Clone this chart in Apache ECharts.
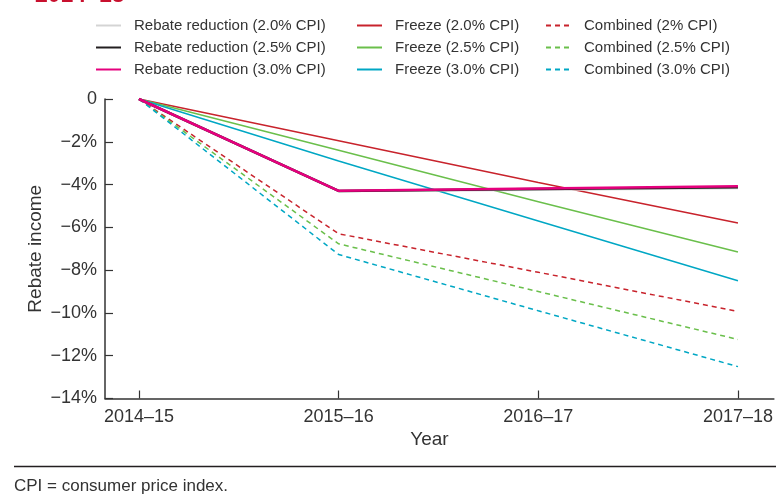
<!DOCTYPE html>
<html>
<head>
<meta charset="utf-8">
<script src="https://cdn.jsdelivr.net/npm/echarts@6/dist/echarts.min.js"></script>
<style>
html, body { margin: 0; padding: 0; background: #fff; }
#main { width: 776px; height: 500px; }
</style>
</head>
<body>
<div id="main"></div>
<script>
// 数据
var years = ['2014–15', '2015–16', '2016–17', '2017–18'];
var rebate20 = [0, -4.3, -4.24, -4.16];
var rebate25 = [0, -4.3, -4.21, -4.12];
var rebate30 = [0, -4.29, -4.18, -4.08];
var freeze20 = [0, -1.95, -3.9, -5.8];
var freeze25 = [0, -2.4, -4.8, -7.15];
var freeze30 = [0, -2.9, -5.7, -8.5];
var comb20 = [0, -6.3, -8.1, -9.93];
var comb25 = [0, -6.77, -9.0, -11.24];
var comb30 = [0, -7.27, -9.9, -12.51];

var FONT = 'Liberation Sans, Arial, sans-serif';
var TXT = '#333';

var mkLine = function(name, vals, color, width, dashed) {
	return {
		name: name,
		type: 'line',
		data: vals.map(function(v, i) { return [i, v]; }),
		symbol: 'none',
		animation: false,
		itemStyle: { color: color },
		lineStyle: { color: color, width: width, type: dashed ? [5, 4] : 'solid' }
	};
};

var legendBase = function(left, names) {
	return {
		data: names,
		orient: 'vertical',
		left: left,
		top: 18,
		padding: 0,
		itemWidth: 25,
		itemHeight: 14,
		itemGap: 7,
		selectedMode: false,
		// 只保留线段，去掉圆点
		itemStyle: { opacity: 0 },
		textStyle: { fontFamily: FONT, fontSize: 15, color: TXT, padding: [0, 0, 0, 8] }
	};
};

var myChart = echarts.init(document.getElementById('main'));
var option = {
	backgroundColor: '#fff',
	animation: false,
	legend: [
		legendBase(95, ['Rebate reduction (2.0% CPI)', 'Rebate reduction (2.5% CPI)', 'Rebate reduction (3.0% CPI)']),
		legendBase(356, ['Freeze (2.0% CPI)', 'Freeze (2.5% CPI)', 'Freeze (3.0% CPI)']),
		legendBase(545, ['Combined (2% CPI)', 'Combined (2.5% CPI)', 'Combined (3.0% CPI)'])
	],
	grid: { left: 105, right: 0, top: 99, bottom: 101.5 },
	xAxis: {
		type: 'value',
		min: -0.17,
		max: 3.18,
		name: 'Year',
		nameLocation: 'middle',
		nameGap: 32,
		nameMoveOverlap: false,
		nameTextStyle: { fontFamily: FONT, fontSize: 19, color: TXT, padding: [0, 20, 0, 0] },
		axisLine: { show: true, onZero: false, lineStyle: { color: '#333', width: 1.5 } },
		axisTick: { show: true, inside: true, length: 8, customValues: [0, 1, 2, 3], lineStyle: { color: '#333', width: 1.2 } },
		axisLabel: {
			customValues: [0, 1, 2, 3],
			margin: 10,
			fontFamily: FONT, fontSize: 18, color: TXT,
			formatter: function(v) { return years[Math.round(v)]; }
		},
		splitLine: { show: false }
	},
	yAxis: {
		type: 'value',
		min: -14,
		max: 0,
		interval: 2,
		name: 'Rebate income',
		nameLocation: 'middle',
		nameGap: 60,
		nameMoveOverlap: false,
		nameTextStyle: { fontFamily: FONT, fontSize: 19, color: TXT },
		axisLine: { show: true, onZero: false, lineStyle: { color: '#333', width: 1.5 } },
		axisTick: { show: true, inside: true, length: 8, lineStyle: { color: '#333', width: 1.2 } },
		axisLabel: {
			margin: 8,
			fontFamily: FONT, fontSize: 18, color: TXT,
			formatter: function(v) { return v === 0 ? '0' : '−' + Math.abs(v) + '%'; }
		},
		splitLine: { show: false }
	},
	graphic: [
		{ type: 'text', left: 35, top: -16, style: { text: '2014–18', fontFamily: FONT, fontSize: 23, fontWeight: 'bold', fill: '#c8102e' } },
		{ type: 'line', shape: { x1: 14, y1: 466.5, x2: 776, y2: 466.5 }, style: { stroke: '#231f20', lineWidth: 1.5 } },
		{ type: 'text', left: 14, top: 478, style: { text: 'CPI = consumer price index.', fontFamily: FONT, fontSize: 17, fill: TXT } }
	],
	series: [
		mkLine('Combined (2% CPI)', comb20, '#c8232c', 1.5, true),
		mkLine('Combined (2.5% CPI)', comb25, '#6abf4b', 1.5, true),
		mkLine('Combined (3.0% CPI)', comb30, '#00a7c4', 1.5, true),
		mkLine('Freeze (2.0% CPI)', freeze20, '#c8232c', 1.5, false),
		mkLine('Freeze (2.5% CPI)', freeze25, '#6abf4b', 1.5, false),
		mkLine('Freeze (3.0% CPI)', freeze30, '#00a7c4', 1.5, false),
		mkLine('Rebate reduction (2.0% CPI)', rebate20, '#d4d4d4', 2.5, false),
		mkLine('Rebate reduction (2.5% CPI)', rebate25, '#231f20', 2.5, false),
		mkLine('Rebate reduction (3.0% CPI)', rebate30, '#e5007d', 2.5, false)
	]
};
myChart.setOption(option);
</script>
</body>
</html>
